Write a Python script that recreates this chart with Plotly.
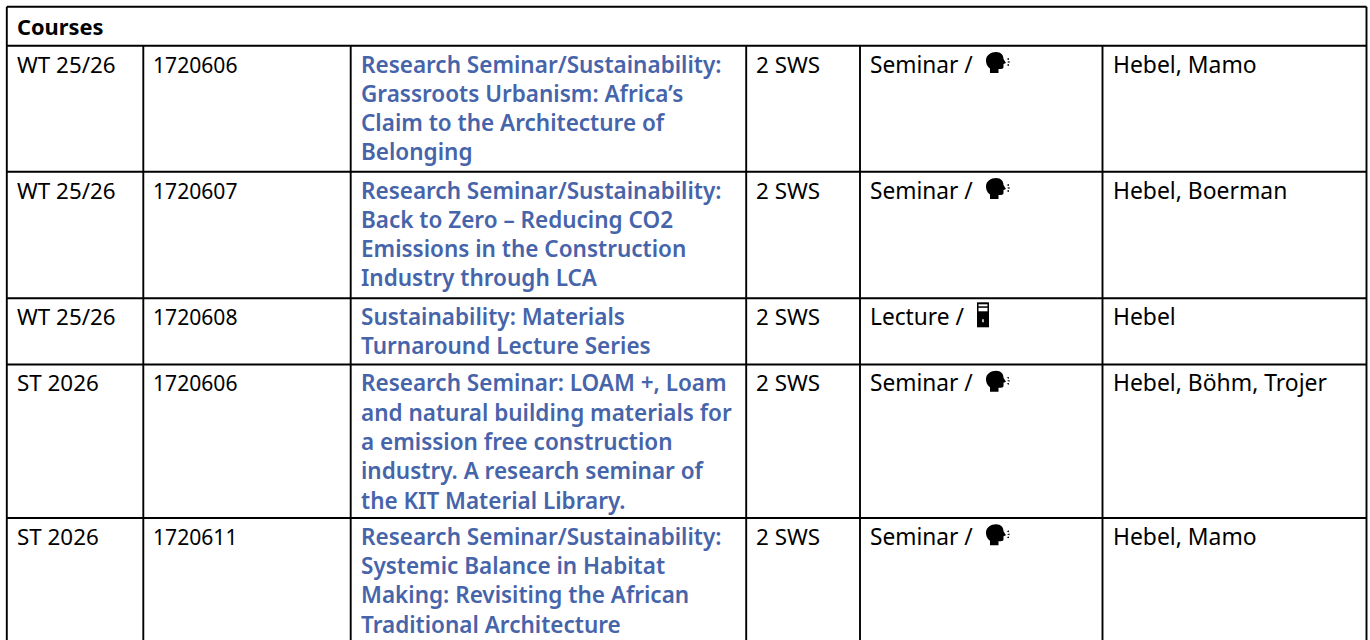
import plotly.graph_objects as go

# ---- content ----
HEADER = "Courses"
terms = ["WT 25/26", "WT 25/26", "WT 25/26", "ST 2026", "ST 2026"]
numbers = ["1720606", "1720607", "1720608", "1720606", "1720611"]
titles = [
    ["Research Seminar/Sustainability:", "Grassroots Urbanism: Africa’s", "Claim to the Architecture of", "Belonging"],
    ["Research Seminar/Sustainability:", "Back to Zero – Reducing CO2", "Emissions in the Construction", "Industry through LCA"],
    ["Sustainability: Materials", "Turnaround Lecture Series"],
    ["Research Seminar: LOAM +, Loam", "and natural building materials for", "a emission free construction", "industry. A research seminar of", "the KIT Material Library."],
    ["Research Seminar/Sustainability:", "Systemic Balance in Habitat", "Making: Revisiting the African", "Traditional Architecture"],
]
sws = ["2 SWS"] * 5
kinds = ["Seminar /", "Seminar /", "Lecture /", "Seminar /", "Seminar /"]
icons = ["voice", "voice", "tower", "voice", "voice"]
lecturers = ["Hebel, Mamo", "Hebel, Boerman", "Hebel", "Hebel, Böhm, Trojer", "Hebel, Mamo"]

# ---- layout (px) ----
W, H = 1370, 640
col_x = [6.8, 143.3, 350.7, 746.2, 860.0, 1102.5, 1366.5]
row_y = [6.8, 45.7, 171.7, 298.3, 364.5, 518.0, 660.0]
FONT = "Noto Sans"
SIZE = 22.4
PITCH = 29.3
FIRST = 18.3
PAD = 10
BLUE = "#4664AA"

fig = go.Figure()
ann = []

def text(x, y, s, color="#000000", weight=400, size=SIZE):
    ann.append(dict(x=x, y=y, xref="x", yref="y", text=s, showarrow=False,
                    xanchor="left", yanchor="middle", align="left", borderpad=0, borderwidth=0,
                    font=dict(family=FONT, size=size, color=color, weight=weight)))

text(col_x[0] + PAD, (row_y[0] + row_y[1]) / 2, HEADER, weight=700, size=21.8)

for i in range(5):
    top = row_y[i + 1]
    y0 = top + FIRST
    text(col_x[0] + PAD, y0, terms[i])
    text(col_x[1] + PAD, y0, numbers[i], size=21.1)
    for j, line_text in enumerate(titles[i]):
        text(col_x[2] + PAD, y0 + j * PITCH, line_text, color=BLUE, weight=600, size=22.5)
    text(col_x[3] + PAD, y0, sws[i])
    text(col_x[4] + PAD, y0, kinds[i], size=22.7)
    text(col_x[5] + PAD, y0, lecturers[i], size=22.9)

shapes = []
def line(x0, y0, x1, y1):
    shapes.append(dict(type="line", x0=x0, y0=y0, x1=x1, y1=y1, xref="x", yref="y",
                       line=dict(color="#000000", width=1.9), layer="above"))

for y in row_y[:-1]:
    line(col_x[0], y, col_x[-1], y)
for k, x in enumerate(col_x):
    line(x, row_y[0] if k in (0, len(col_x) - 1) else row_y[1], x, H + 5)

def path_shape(d, color="#000000"):
    shapes.append(dict(type="path", path=d, xref="x", yref="y", fillcolor=color,
                       line=dict(width=0), layer="above"))

def voice(ox, oy):
    p = lambda x, y: f"{ox + x:.1f},{oy + y:.1f}"
    d = (f"M{p(4, 21)} L{p(4, 16.5)} C{p(0.5, 14)} {p(0, 10)} {p(0, 8.5)} "
         f"C{p(0, 3)} {p(5, 0)} {p(10, 0)} C{p(15, 0)} {p(17.5, 3)} {p(17.5, 7)} "
         f"L{p(20, 11)} L{p(17.5, 12)} L{p(17.5, 15)} C{p(17.5, 17)} {p(15.5, 17)} {p(12.5, 17)} L{p(12.5, 21)} Z")
    path_shape(d)
    for dx, dy in [(20.5, 7), (21, 10), (20.5, 13)]:
        path_shape(f"M{p(dx, dy)} L{p(dx + 2.5, dy - 0.9)} L{p(dx + 2.5, dy + 0.9)} Z")

def tower(ox, oy):
    p = lambda x, y: f"{ox + x:.1f},{oy + y:.1f}"
    path_shape(f"M{p(0, 0)} L{p(12, 0)} L{p(12, 25)} L{p(0, 25)} Z")
    path_shape(f"M{p(1.5, 2)} L{p(10.5, 2)} L{p(10.5, 4)} L{p(1.5, 4)} Z", "#ffffff")
    path_shape(f"M{p(1.5, 5.5)} L{p(10.5, 5.5)} L{p(10.5, 9)} L{p(1.5, 9)} Z", "#ffffff")
    path_shape(f"M{p(5, 17)} L{p(7, 17)} L{p(7, 20)} L{p(5, 20)} Z", "#bbbbbb")

for i, ic in enumerate(icons):
    top = row_y[i + 1]
    if ic == "voice":
        voice(986, top + 6.3)
    else:
        tower(977, top + 4)

fig.update_layout(
    width=W, height=H, margin=dict(l=0, r=0, t=0, b=0),
    paper_bgcolor="#ffffff", plot_bgcolor="#ffffff", showlegend=False,
    xaxis=dict(range=[0, W], visible=False, fixedrange=True),
    yaxis=dict(range=[H, 0], visible=False, fixedrange=True),
    annotations=ann, shapes=shapes,
)
fig.write_html("out.html", config={"displayModeBar": False},
               post_script="document.body.style.margin='0';document.body.style.overflow='hidden';")
